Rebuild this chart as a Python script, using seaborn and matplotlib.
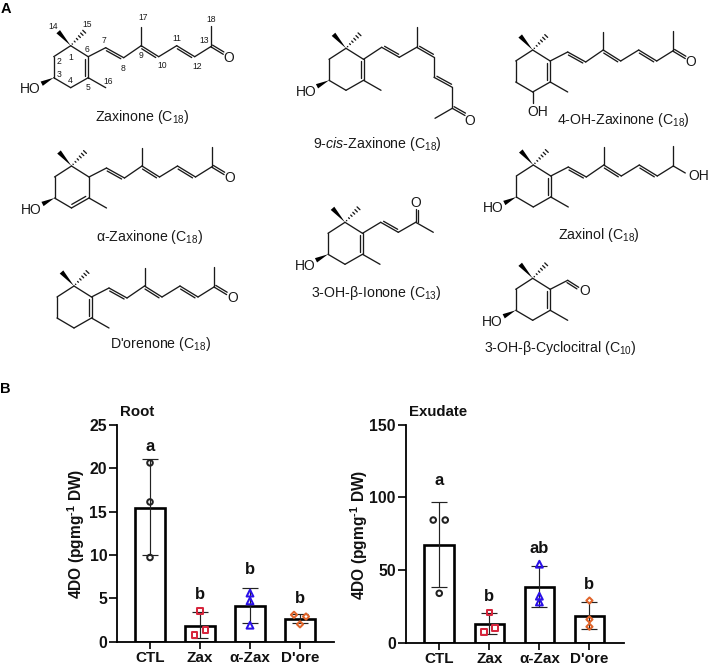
import matplotlib
matplotlib.use("Agg")
import matplotlib.pyplot as plt
from matplotlib.patches import Polygon
import numpy as np
import seaborn as sns

# ---- data ----
categories = ["CTL", "Zax", "α-Zax", "D'ore"]
root_means = [15.4, 1.85, 4.15, 2.6]
root_low = [10.0, 0.4, 2.2, 2.1]
root_high = [21.0, 3.4, 6.2, 3.2]
root_points = [[20.6, 16.1, 9.7], [3.55, 1.35, 0.75], [5.6, 4.7, 1.9], [3.1, 2.9, 2.0]]
root_letters = ["a", "b", "b", "b"]
root_letter_y = [22.5, 5.4, 8.35, 5.0]

exu_means = [67.5, 13.0, 38.0, 18.5]
exu_low = [38.3, 5.7, 24.5, 9.6]
exu_high = [96.6, 20.2, 52.5, 28.2]
exu_points = [[84.4, 84.4, 34.0], [20.9, 10.0, 7.3], [54.0, 32.0, 28.0], [29.0, 16.0, 11.0]]
exu_letters = ["a", "b", "ab", "b"]
exu_letter_y = [111.5, 32.0, 65.0, 40.0]

# ---- style ----
root_dx = [[0, 0, 0], [0, 0.11, -0.11], [0, 0, 0], [-0.12, 0.12, 0]]
exu_dx = [[-0.12, 0.12, 0], [0, 0.11, -0.11], [0, 0, 0], [0, 0, 0]]
markers = ["o", "s", "^", "D"]
colors = ["#222222", "#d7263d", "#2a10e8", "#e0642a"]
sizes = [16, 16, 24, 10]

sns.set_theme(style="white")
plt.rcParams["font.family"] = ["Liberation Sans", "DejaVu Sans"]
plt.rcParams["mathtext.fontset"] = "custom"
plt.rcParams["mathtext.rm"] = "Liberation Sans"
plt.rcParams["mathtext.it"] = "Liberation Sans:italic"
plt.rcParams["mathtext.bf"] = "Liberation Sans:bold"

W, H = 708, 668
fig = plt.figure(figsize=(W / 100, H / 100), dpi=100, facecolor="white")

# ---- panel A: structure sketches on a pixel-scaled overlay ----
ov = fig.add_axes([0, 0, 1, 1], zorder=0)
ov.set_xlim(0, W)
ov.set_ylim(H, 0)
ov.axis("off")
LW = 0.95
INK = "#1a1a1a"


def line(a, b):
    ov.plot([a[0], b[0]], [a[1], b[1]], color=INK, lw=LW, solid_capstyle="round")


def dbl(a, b, side=1, off=2.3, shrink=0.1):
    a, b = np.array(a, float), np.array(b, float)
    line(a, b)
    d = b - a
    n = np.array([-d[1], d[0]]) / np.hypot(*d)
    line(a + d * shrink + n * side * off, b - d * shrink + n * side * off)


def wedge(a, b, w=2.4):
    a, b = np.array(a, float), np.array(b, float)
    d = b - a
    n = np.array([-d[1], d[0]]) / np.hypot(*d)
    ov.add_patch(Polygon([a, b + n * w, b - n * w], closed=True, fc="black", ec="none"))


def hashed(a, b, count=6, w=2.0):
    a, b = np.array(a, float), np.array(b, float)
    d = b - a
    n = np.array([-d[1], d[0]]) / np.hypot(*d)
    for t in np.linspace(0.12, 1, count):
        p = a + d * t
        line(p - n * w * t, p + n * w * t)


def atom(p, s, size=10):
    ov.text(p[0], p[1], s, ha="center", va="center", fontsize=size, color=INK)


T = {1: (0, 0), 2: (-17, 11), 3: (-17, 32), 4: (0, 42), 5: (17.5, 32), 6: (17.5, 11),
     7: (35, 2), 8: (53, 12), 9: (70.5, 0), 10: (88, 11), 11: (106, 0), 12: (124, 11), 13: (140, 1)}


def ring(o, hydroxy=True, ring_double="56", arm=True):
    P = {k: (o[0] + v[0], o[1] + v[1]) for k, v in T.items()}
    for a, b in [(1, 2), (2, 3), (3, 4), (4, 5), (5, 6), (6, 1)]:
        if {a, b} == {5, 6} and ring_double == "56":
            dbl(P[6], P[5], 1, 3.0)
        elif {a, b} == {4, 5} and ring_double == "45":
            dbl(P[4], P[5], -1, 3.0)
        else:
            line(P[a], P[b])
    if arm:
        line(P[6], P[7])
    wedge(P[1], (o[0] - 12.5, o[1] - 14))
    hashed(P[1], (o[0] + 13.5, o[1] - 14))
    line(P[5], (o[0] + 35, o[1] + 42))
    if hydroxy:
        wedge(P[3], (o[0] - 29, o[1] + 38))
        atom((o[0] - 40, o[1] + 43.5), "HO")
    return P


def tail(o, P):
    dbl(P[7], P[8])
    line(P[8], P[9])
    dbl(P[9], P[10])
    line(P[9], (o[0] + 70.5, o[1] - 18.5))
    line(P[10], P[11])
    dbl(P[11], P[12])
    line(P[12], P[13])
    line(P[13], (o[0] + 140, o[1] - 19.5))


def ketone(o, P):
    dbl(P[13], (o[0] + 152.6, o[1] + 8.6), -1, 2.3, 0.05)
    atom((o[0] + 158.5, o[1] + 12.5), "O")


# Zaxinone
o = (70.7, 45.7)
P = ring(o)
tail(o, P)
ketone(o, P)
for s, x, y in [("14", 160, 80), ("15", 260, 73), ("7", 312, 122), ("6", 262, 150), ("1", 211, 172),
                ("2", 177, 185), ("3", 178, 223), ("4", 210, 242), ("5", 265, 262), ("16", 323, 243),
                ("17", 428, 53), ("8", 368, 205), ("9", 423, 168), ("10", 487, 195), ("11", 530, 115),
                ("12", 593, 200), ("13", 612, 122), ("18", 632, 58)]:
    atom((x / 3, y / 3), s, 6.2)
# alpha-Zaxinone
o = (71.5, 166)
P = ring(o, ring_double="45")
tail(o, P)
ketone(o, P)
# D'orenone
o = (74, 286)
P = ring(o, hydroxy=False)
tail(o, P)
ketone(o, P)
# 4-OH-Zaxinone
o = (532.7, 50)
P = ring(o, hydroxy=False)
tail(o, P)
ketone(o, P)
line(P[4], (o[0], o[1] + 53))
atom((o[0] + 5.5, o[1] + 62.5), "OH")
# Zaxinol
o = (533.3, 165)
P = ring(o)
tail(o, P)
line(P[13], (o[0] + 152, o[1] + 8))
atom((o[0] + 165, o[1] + 11), "OH")
# 3-OH-beta-Cyclocitral
o = (532.7, 278.3)
P = ring(o)
dbl(P[7], (o[0] + 46, o[1] + 9), 1, 2.3, 0.05)
atom((o[0] + 52, o[1] + 13), "O")
# 3-OH-beta-Ionone
o = (345, 222.3)
P = ring(o, arm=False)
c7, c8, c9 = (o[0] + 35.7, o[1]), (o[0] + 53.3, o[1] + 10), (o[0] + 70.7, o[1])
line(P[6], c7)
dbl(c7, c8, -1)
line(c8, c9)
dbl(c9, (c9[0], c9[1] - 13), 1, 2.5, 0.05)
atom((c9[0], c9[1] - 19), "O")
line(c9, (c9[0] + 17.6, c9[1] + 10))
# 9-cis-Zaxinone
o = (346, 48.3)
P = ring(o, arm=False)
pts = {7: (381.7, 47.3), 8: (399.3, 57.3), 9: (416.7, 47.3), 10: (434, 57.3),
       11: (434, 77.3), 12: (452.3, 87.3), 13: (452.3, 108.3)}
line(P[6], pts[7])
dbl(pts[7], pts[8], -1)
line(pts[8], pts[9])
dbl(pts[9], pts[10], -1)
line(pts[9], (416.7, 27.3))
line(pts[10], pts[11])
dbl(pts[11], pts[12], -1)
line(pts[12], pts[13])
line(pts[13], (435, 118.3))
dbl(pts[13], (465, 115.5), -1, 2.3, 0.05)
atom((470, 120.7), "O")

for s, x, y in [("Zaxinone (C$_{18}$)", 142, 116.7),
                ("9-$\\mathit{cis}$-Zaxinone (C$_{18}$)", 377.7, 144),
                ("4-OH-Zaxinone (C$_{18}$)", 623.3, 120),
                ("α-Zaxinone (C$_{18}$)", 150, 236.7),
                ("3-OH-β-Ionone (C$_{13}$)", 376.7, 292.7),
                ("Zaxinol (C$_{18}$)", 599.3, 235),
                ("D'orenone (C$_{18}$)", 161, 344),
                ("3-OH-β-Cyclocitral (C$_{10}$)", 560.7, 348.3)]:
    atom((x, y), s, 10.2)
ov.text(5.7, 9, "A", ha="center", va="center", fontsize=10.5, fontweight="bold", color="black")
ov.text(5.7, 389, "B", ha="center", va="center", fontsize=10.5, fontweight="bold", color="black")


# ---- panel B ----
def panel(rect, title, title_x, means, low, high, points, dx, letters, letter_y, ymax, step, xlim, label_x):
    l, r, b, t = rect
    ax = fig.add_axes([l / W, 1 - b / H, (r - l) / W, (b - t) / H], zorder=1)
    ax.patch.set_alpha(0)
    sns.barplot(x=categories, y=means, width=0.59, color="white", edgecolor="black",
                linewidth=1.9, saturation=1, errorbar=None, ax=ax, zorder=2)
    for i in range(len(categories)):
        ax.errorbar(i, means[i], yerr=[[means[i] - low[i]], [high[i] - means[i]]], color="#222222",
                    elinewidth=0.85, capsize=6, capthick=0.85, zorder=3, fmt="none")
        sns.scatterplot(x=[i + d for d in dx[i]], y=points[i], marker=markers[i], s=sizes[i],
                        facecolor="none", edgecolor=colors[i], linewidth=1.45, ax=ax, zorder=4,
                        clip_on=False, legend=False)
        ax.text(i, letter_y[i], letters[i], ha="center", va="center", fontsize=12,
                fontweight="bold", color="#111111")
    ax.set_xlim(*xlim)
    ax.set_ylim(0, ymax)
    ax.set_yticks(np.arange(0, ymax + 1, step))
    ax.set_xticks(range(len(categories)))
    ax.set_xticklabels(categories)
    ax.tick_params(axis="both", which="major", length=5.6, width=1.2, color="black", left=True, bottom=True,
                   labelcolor="#111111")
    ax.tick_params(axis="x", length=5.0, pad=1.5, labelsize=11)
    ax.tick_params(axis="y", pad=1.5, labelsize=11.3)
    for lab in ax.get_xticklabels() + ax.get_yticklabels():
        lab.set_fontweight("bold")
    sns.despine(ax=ax)
    for s in ("left", "bottom"):
        ax.spines[s].set_linewidth(1.3)
        ax.spines[s].set_color("black")
    ax.set_xlabel("")
    ax.set_ylabel("4DO (pgmg$^{\\mathbf{\u20101}}$ DW)", fontsize=11.2, fontweight="bold", color="#111111", va="center")
    ax.yaxis.set_label_coords(label_x, 0.496)
    ov.text(title_x, 412, title, ha="left", va="center", fontsize=10.8, fontweight="bold", color="#111111")
    return ax


panel((117, 334, 641.7, 424.7), "Root", 120, root_means, root_low, root_high, root_points, root_dx,
      root_letters, root_letter_y, 25, 5, (-0.66, 3.68), -0.189)
panel((405.7, 624, 642.7, 424.7), "Exudate", 409, exu_means, exu_low, exu_high, exu_points, exu_dx,
      exu_letters, exu_letter_y, 150, 50, (-0.67, 3.69), -0.214)

fig.savefig("out.png", dpi=100)
